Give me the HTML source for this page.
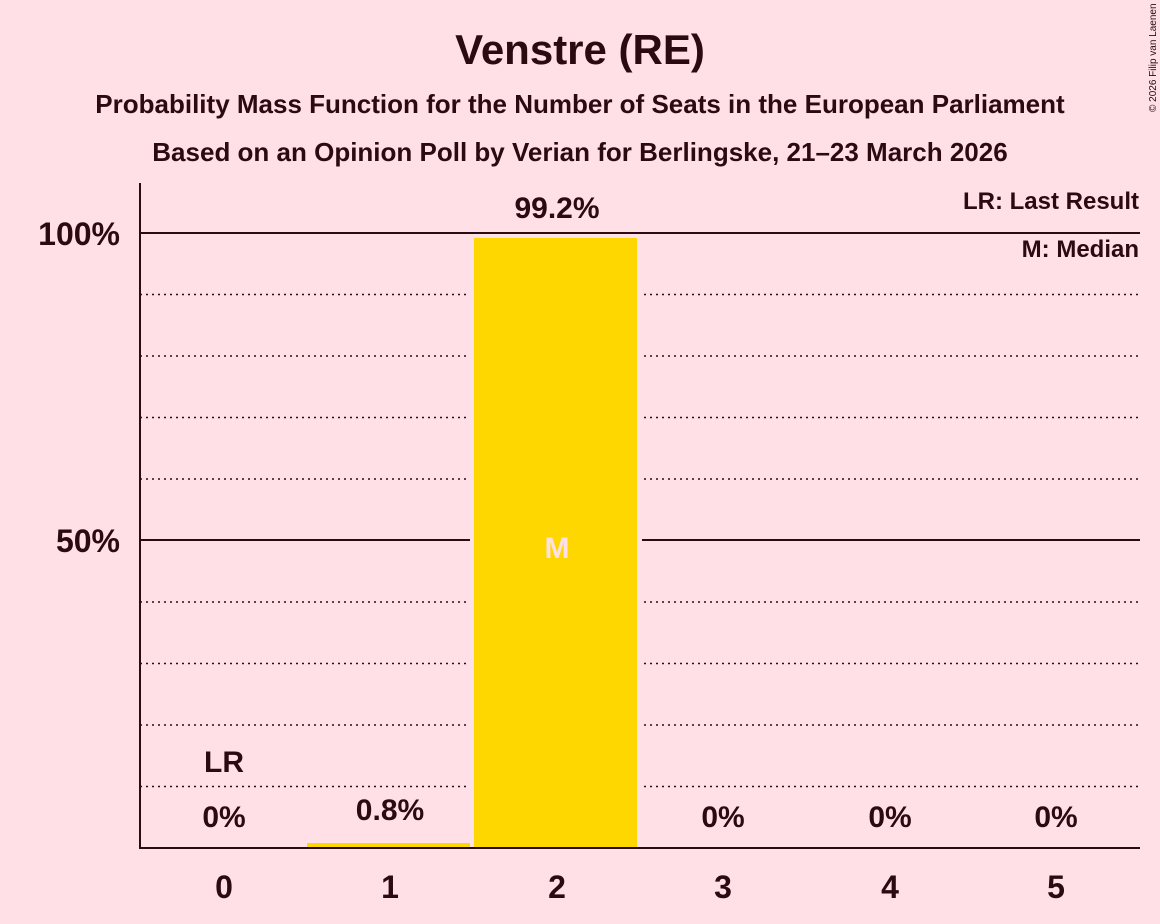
<!DOCTYPE html>
<html><head><meta charset="utf-8"><style>
body{margin:0;background:#FFE0E6;}
svg{display:block;font-family:"Liberation Sans",sans-serif;}
</style></head><body>
<svg width="1160" height="924" viewBox="0 0 1160 924">
<rect width="1160" height="924" fill="#FFE0E6"/>
<g fill="#2B0A10" font-weight="bold" text-anchor="middle">
<text x="580" y="64" font-size="42">Venstre (RE)</text>
<text x="580" y="113" font-size="26">Probability Mass Function for the Number of Seats in the European Parliament</text>
<text x="580" y="161" font-size="26">Based on an Opinion Poll by Verian for Berlingske, 21–23 March 2026</text>
</g>
<text transform="translate(1156,112) rotate(-90)" font-size="10" fill="#2B0A10">© 2026 Filip van Laenen</text>
<g stroke="#2B0A10" stroke-width="1.5" stroke-dasharray="2,4">
<line x1="140" y1="786.5" x2="1140" y2="786.5"/>
<line x1="140" y1="725" x2="1140" y2="725"/>
<line x1="140" y1="663.5" x2="1140" y2="663.5"/>
<line x1="140" y1="602" x2="1140" y2="602"/>
<line x1="140" y1="479" x2="1140" y2="479"/>
<line x1="140" y1="417.5" x2="1140" y2="417.5"/>
<line x1="140" y1="356" x2="1140" y2="356"/>
<line x1="140" y1="294.5" x2="1140" y2="294.5"/>
</g>
<g stroke="#2B0A10" stroke-width="2">
<line x1="140" y1="540" x2="1140" y2="540"/>
<line x1="140" y1="233" x2="1140" y2="233"/>
</g>
<rect x="470" y="236" width="172" height="612" fill="#FFE0E6"/>
<rect x="474" y="238" width="163" height="610" fill="#FFD700"/>
<rect x="307" y="843" width="163" height="5" fill="#FFD700"/>
<g stroke="#2B0A10" stroke-width="2">
<line x1="140" y1="183" x2="140" y2="849"/>
<line x1="139" y1="848" x2="1140" y2="848"/>
</g>
<g fill="#2B0A10" font-weight="bold" font-size="32" text-anchor="end">
<text x="120" y="245">100%</text>
<text x="120" y="552">50%</text>
</g>
<g fill="#2B0A10" font-weight="bold" font-size="32" text-anchor="middle">
<text x="224" y="898">0</text><text x="390" y="898">1</text><text x="557" y="898">2</text>
<text x="723" y="898">3</text><text x="890" y="898">4</text><text x="1056" y="898">5</text>
</g>
<g fill="#2B0A10" font-weight="bold" font-size="30" text-anchor="middle">
<text x="224" y="827">0%</text><text x="390" y="820">0.8%</text><text x="557" y="218">99.2%</text>
<text x="723" y="827">0%</text><text x="890" y="827">0%</text><text x="1056" y="827">0%</text>
<text x="224" y="772">LR</text>
</g>
<text x="557" y="558" fill="#FFE0E6" font-weight="bold" font-size="30" text-anchor="middle">M</text>
<g fill="#2B0A10" font-weight="bold" font-size="24" text-anchor="end">
<text x="1139" y="209">LR: Last Result</text>
<text x="1139" y="257">M: Median</text>
</g>
</svg>
</body></html>
